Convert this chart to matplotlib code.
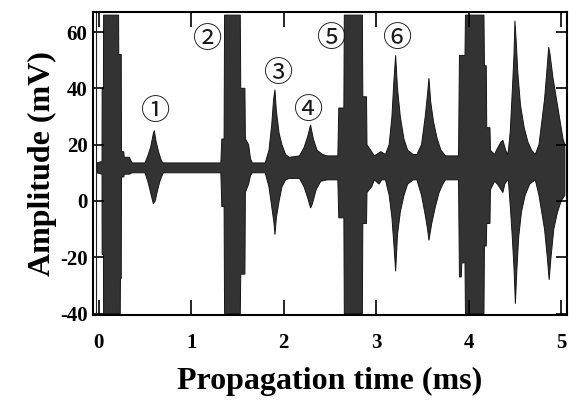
import numpy as np
import matplotlib
matplotlib.use("Agg")
import matplotlib.pyplot as plt

# Upper envelope of the recorded waveform (time in ms, amplitude in mV)
t_upper = [-0.02, 0.035, 0.036, 0.05, 0.052, 0.214, 0.216, 0.243, 0.245, 0.27, 0.275, 0.33, 0.36,
           0.50, 0.53, 0.56, 0.59, 0.60, 0.62, 0.65, 0.68, 0.70,
           1.32, 1.33, 1.355, 1.36, 1.53, 1.535, 1.58, 1.585, 1.62, 1.64, 1.66,
           1.80, 1.84, 1.87, 1.89, 1.905, 1.92, 1.95, 1.98, 2.02, 2.06,
           2.17, 2.22, 2.26, 2.29, 2.32, 2.36, 2.42, 2.47,
           2.585, 2.595, 2.65, 2.655, 2.85, 2.855, 2.895, 2.90, 2.95, 2.98, 3.05, 3.10,
           3.14, 3.17, 3.19, 3.21, 3.23, 3.26, 3.30, 3.34, 3.40,
           3.44, 3.49, 3.53, 3.555, 3.57, 3.59, 3.62, 3.66, 3.70, 3.75,
           3.89, 3.90, 3.96, 3.965, 4.165, 4.17, 4.19, 4.195, 4.23, 4.235, 4.28,
           4.30, 4.35, 4.37, 4.40, 4.42,
           4.43, 4.45, 4.47, 4.49, 4.50, 4.515, 4.53, 4.56, 4.60, 4.64, 4.68, 4.72,
           4.76, 4.79, 4.82, 4.845, 4.865, 4.88, 4.91, 4.95, 4.99, 5.02, 5.04]
v_upper = [13.5, 14, 40, 40, 66, 66, 52, 52, 17.5, 17.5, 15.5, 15.5, 13.5,
           13.5, 16, 19, 24, 25, 21, 17, 14, 13.5,
           13.5, 22, 22, 66, 66, 40, 40, 22, 20, 15, 13.5,
           13.5, 18, 27, 36, 39.5, 32, 24, 20, 16.5, 15.5,
           16, 19, 23, 27, 22, 18, 16.5, 16,
           16, 33, 33, 66, 66, 37, 37, 20, 17.5, 16, 17.5, 16.5,
           20, 30, 42, 51.7, 40, 30, 22, 18, 16.5,
           16.5, 20, 30, 38, 43.6, 35, 28, 22, 18, 16,
           16, 51.7, 51.7, 66, 66, 48, 48, 26, 26, 18, 16.5,
           18, 21, 21.5, 18, 16.5,
           18, 25, 38, 52, 64, 56, 46, 34, 26, 21, 18, 16.5,
           20, 28, 36, 46, 54.6, 52, 44, 36, 28, 22, 20]

# Lower envelope of the recorded waveform
t_lower = [-0.02, 0.035, 0.036, 0.05, 0.052, 0.232, 0.234, 0.243, 0.245, 0.27, 0.275, 0.33, 0.36,
           0.50, 0.53, 0.56, 0.59, 0.61, 0.63, 0.66, 0.69, 0.70,
           1.32, 1.33, 1.355, 1.36, 1.53, 1.535, 1.58, 1.585, 1.62, 1.64, 1.66,
           1.80, 1.84, 1.87, 1.895, 1.905, 1.92, 1.95, 1.98, 2.02, 2.06,
           2.17, 2.22, 2.26, 2.29, 2.31, 2.35, 2.40, 2.47,
           2.585, 2.595, 2.65, 2.655, 2.85, 2.855, 2.895, 2.90, 2.95, 2.98, 3.03, 3.06, 3.10,
           3.14, 3.17, 3.19, 3.21, 3.23, 3.26, 3.30, 3.34, 3.40,
           3.44, 3.49, 3.53, 3.555, 3.57, 3.60, 3.64, 3.68, 3.72, 3.75,
           3.89, 3.90, 3.92, 3.925, 3.96, 3.965, 4.165, 4.17, 4.19, 4.195, 4.23, 4.235, 4.28,
           4.31, 4.35, 4.37, 4.39, 4.42,
           4.43, 4.45, 4.47, 4.49, 4.505, 4.52, 4.54, 4.57, 4.61, 4.66, 4.72,
           4.76, 4.79, 4.82, 4.85, 4.87, 4.89, 4.92, 4.96, 5.00, 5.04]
v_lower = [10, 9.5, -19, -19, -40, -40, -27.5, -27.5, 8.5, 8.5, 9.5, 9.5, 10,
           10, 7, 3, -1, 0, 3, 7, 9.5, 10,
           10, -2, -2, -40, -40, -26, -26, 3, 6, 9, 10,
           10, 5, -2, -8, -12, -6, 0, 5, 7.5, 8,
           8, 5, 1, -2.5, -1, 4, 7, 7.5,
           7.5, -6, -6, -40, -40, -8, -8, 3, 5, 7.5, 6, 7.5, 7.5,
           2, -6, -15, -25, -12, -4, 2, 6, 7.5,
           7.5, 2, -5, -10, -14, -8, -2, 3, 6, 7.5,
           7.5, -27, -27, -22, -22, -40, -40, -16, -16, -8, -8, 4, 7,
           6, 4, 3, 6, 7.5,
           7, -2, -12, -24, -36.5, -25, -13, -4, 2, 6, 7.5,
           2, -4, -10, -20, -28, -20, -10, -4, 0, 2]

# Echo labels
echo_labels = ["①", "②", "③", "④", "⑤", "⑥"]
echo_label_t = [0.61, 1.172, 1.942, 2.266, 2.518, 3.231]
echo_label_v = [31.5, 57.0, 45.2, 32.1, 57.6, 57.6]

x_ticks = [0, 1, 2, 3, 4, 5]
y_ticks = [-40, -20, 0, 20, 40, 60]

serif = ["Liberation Serif", "DejaVu Serif"]

fig = plt.figure(figsize=(5.69, 4.03), dpi=100)
ax = fig.add_axes([0.1634, 0.2184, 0.996 - 0.1634, 0.9695 - 0.2184])

poly_t = np.concatenate([t_upper, t_lower[::-1]])
poly_v = np.concatenate([v_upper, v_lower[::-1]])
ax.fill(poly_t, poly_v, facecolor="#333333", edgecolor="#151515", linewidth=0.7)

# inner trigger line near t = 0
ax.axvline(-0.025, color="#222222", linewidth=0.8)

for lab, tx, vy in zip(echo_labels, echo_label_t, echo_label_v):
    ax.text(tx, vy, lab, ha="center", va="center", fontsize=21,
            family=["Noto Sans CJK JP", "DejaVu Sans"], color="#1a1a1a")

ax.set_xlim(-0.063, 5.06)
ax.set_ylim(-40.5, 67)
ax.set_xticks(x_ticks)
ax.set_yticks(y_ticks)
ax.set_xticklabels([str(v) for v in x_ticks])
ax.set_yticklabels([str(v) for v in y_ticks])
ax.tick_params(axis="x", direction="in", length=11, width=1.2, top=True, bottom=True,
               pad=13, labelsize=15)
ax.tick_params(axis="y", direction="in", length=8, width=1.2, left=True, right=True,
               pad=4, labelsize=15)
for lab in ax.get_xticklabels() + ax.get_yticklabels():
    lab.set_family(serif)
    lab.set_fontweight("bold")
for sp in ax.spines.values():
    sp.set_linewidth(1.5)

ax.set_xlabel("Propagation time (ms)", family=serif, fontweight="bold", fontsize=23, labelpad=10)
ax.set_ylabel("Amplitude (mV)", family=serif, fontweight="bold", fontsize=23, labelpad=2)

fig.savefig("out.png", dpi=100)
